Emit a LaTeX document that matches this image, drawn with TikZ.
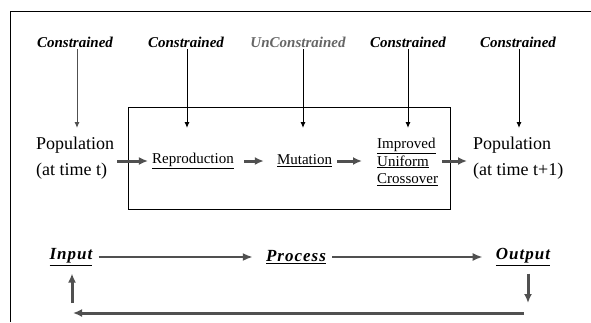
\documentclass[tikz,border=0pt]{standalone}
\usepackage{fontspec}
\setmainfont{Liberation Serif}
\newfontfamily\widefont[LetterSpace=6]{Liberation Serif}
\usetikzlibrary{arrows.meta}
\definecolor{arrgray}{HTML}{505050}
\definecolor{ungray}{HTML}{666666}

\begin{document}
\begin{tikzpicture}[x=1pt,y=-1pt,>=Latex,
  cons/.style={font=\fontsize{15}{17}\selectfont\bfseries\itshape,inner sep=2pt},
  big/.style={font=\fontsize{18}{26}\selectfont,align=left,anchor=west,inner sep=0pt},
  small/.style={font=\fontsize{15}{17.5}\selectfont,inner sep=0pt},
  iop/.style={font=\fontsize{17}{19}\widefont\bfseries\itshape,inner sep=0pt},
  thin/.style={-{Latex[length=6pt,width=5pt]},line width=1pt},
  thk/.style={-{Latex[length=9pt,width=8pt]},line width=3pt,arrgray},
  mid/.style={-{Latex[length=10pt,width=8pt]},line width=2pt,arrgray}]
\useasboundingbox (0,0) rectangle (591,322);
% frame, cut at the right and the bottom
\draw[line width=1.5pt] (10.5,322)--(10.5,11.5)--(591,11.5);
% constraints on each stage
\foreach \n/\x in {c1/75,c2/186,c4/408,c5/518}{\node[cons] (\n) at (\x,42) {Constrained};}
\node[cons,ungray] (c3) at (298,42) {UnConstrained};
\foreach \n/\x in {t1/77,t2/187,t3/303,t4/408,t5/519}{\coordinate (\n) at (\x,128);}
\draw[thin,arrgray] (t1 |- c1.south) -- (t1);
\foreach \i in {2,3,4,5}{\draw[thin] (t\i |- c\i.south) -- (t\i);}
% genetic operators
\node[draw,line width=1pt,minimum width=322,minimum height=102] (box) at (289,158) {};
\node[big] (pop1) at (36,158) {Population\\(at time t)};
\node[small] (rep) at (193,161) {\underline{Reproduction}};
\node[small] (mut) at (304.5,161) {\underline{Mutation}};
\node[small,align=left,anchor=west] (iuc) at (377,162) {\underline{Improved}\\\underline{Uniform}\\\underline{Crossover}};
\node[big] (pop2) at (473,158) {Population\\(at time t+1)};
\draw[thk,shorten <=3pt,shorten >=4pt] (pop1.east |- rep) -- (rep.west);
\draw[thk,shorten <=10pt,shorten >=13pt] (rep.east) -- (mut.west);
\draw[thk,shorten <=5pt,shorten >=15pt] (mut.east) -- (iuc.west |- mut);
\draw[thk,shorten <=4pt,shorten >=6pt] (iuc.east |- rep) -- (pop2.west |- rep);
% input, process, output
\node[iop] (inp) at (71,257) {\underline{Input}};
\node[iop] (proc) at (296,257) {\underline{Process}};
\node[iop] (out) at (523,257) {\underline{Output}};
\draw[mid,shorten <=6pt,shorten >=13pt] (inp.east) -- (proc.west);
\draw[mid,shorten <=6pt,shorten >=13pt] (proc.east) -- (out.west);
\coordinate (d1) at (528,303); \coordinate (b1) at (524,313); \coordinate (b2) at (73,313); \coordinate (u1) at (72,303);
\draw[thk,shorten <=8pt] (out.south -| d1) -- (d1);
\draw[thk] (b1) -- (b2);
\draw[thk,shorten >=8pt] (u1) -- (u1 |- inp.south);
\end{tikzpicture}
\end{document}
